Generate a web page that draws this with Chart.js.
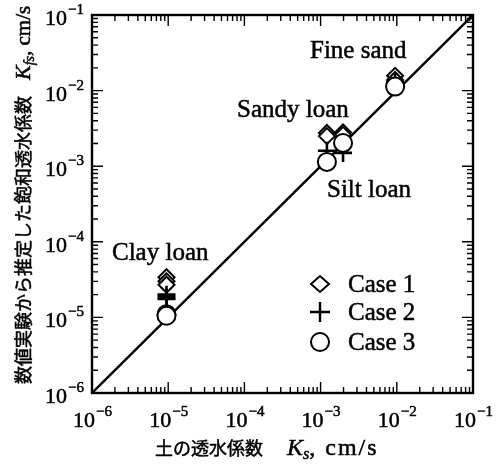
<html>
<head>
    <script src="https://cdn.jsdelivr.net/npm/chart.js"></script>
    <style>
        body { margin: 0; background: #fff; }
    </style>
</head>
<body>
    <canvas id="myChart" width="503" height="466"></canvas>
    <script>
        // 軸の目盛り（10の累乗）
        const tickExponents = [-6, -5, -4, -3, -2, -1];

        // 土の透水係数 Ks (cm/s) : Clay loan, Sandy loan, Silt loan, Fine sand
        const soilKs = [9.5e-6, 1.21e-3, 1.97e-3, 9.5e-3];

        // 数値実験から推定した Kfs (cm/s)、土ごと
        const case1Kfs = [[3.4e-5, 3.0e-5, 2.7e-5], [2.75e-3, 2.5e-3], [2.8e-3, 2.6e-3], [1.57e-2, 1.38e-2]];
        const case2Kfs = [[2.0e-5, 1.85e-5, 1.75e-5], [1.6e-3], [1.5e-3], [1.3e-2]];
        const case3Kfs = [[1.1e-5, 1.05e-5], [1.14e-3], [2.03e-3], [1.13e-2]];

        const legendLabels = ['Case 1', 'Case 2', 'Case 3'];
        const soilNames = ['Clay loan', 'Sandy loan', 'Silt loan', 'Fine sand'];

        function toPoints(kfs) {
            const pts = [];
            soilKs.forEach((x, i) => kfs[i].forEach(y => pts.push({ x: x, y: y })));
            return pts;
        }

        const serif = '"Liberation Serif", "DejaVu Serif", serif';
        const jp = '"Noto Sans CJK JP", sans-serif';

        // 文字を少し太めに（スキャン画像っぽく）
        function text(ctx, t, x, y) {
            ctx.fillText(t, x, y);
            ctx.strokeText(t, x, y);
        }

        // 軸・目盛り・文字を描く
        const decor = {
            id: 'decor',
            afterDraw(chart) {
                const ctx = chart.ctx;
                const a = chart.chartArea;
                const xs = chart.scales.x;
                const ys = chart.scales.y;
                ctx.save();
                ctx.strokeStyle = '#000';
                ctx.fillStyle = '#000';

                // 枠
                ctx.lineWidth = 2.4;
                ctx.strokeRect(a.left, a.top, a.right - a.left, a.bottom - a.top);

                // 内向きの目盛り
                ctx.lineWidth = 1.4;
                ctx.beginPath();
                tickExponents.forEach((e, idx) => {
                    for (let m = 1; m <= 9; m++) {
                        if (idx === tickExponents.length - 1 && m > 1) break;
                        const v = m * Math.pow(10, e);
                        const len = m === 1 ? 11 : 6;
                        const px = xs.getPixelForValue(v);
                        const py = ys.getPixelForValue(v);
                        ctx.moveTo(px, a.bottom); ctx.lineTo(px, a.bottom - len);
                        ctx.moveTo(px, a.top); ctx.lineTo(px, a.top + len);
                        ctx.moveTo(a.left, py); ctx.lineTo(a.left + len, py);
                        ctx.moveTo(a.right, py); ctx.lineTo(a.right - len, py);
                    }
                });
                ctx.stroke();

                ctx.lineWidth = 0.5;

                // 目盛りラベル 10^n
                const baseFont = '22px ' + serif;
                const supFont = '15px ' + serif;
                ctx.textBaseline = 'alphabetic';
                ctx.textAlign = 'left';
                tickExponents.forEach(e => {
                    const sup = '\u2212' + Math.abs(e);
                    ctx.font = baseFont;
                    const w1 = ctx.measureText('10').width;
                    ctx.font = supFont;
                    const w2 = ctx.measureText(sup).width;
                    // x 軸
                    let cx = xs.getPixelForValue(Math.pow(10, e)) - (w1 + w2) / 2;
                    ctx.font = baseFont;
                    text(ctx, '10', cx, a.bottom + 34);
                    ctx.font = supFont;
                    text(ctx, sup, cx + w1 + 1, a.bottom + 23);
                    // y 軸
                    const py = ys.getPixelForValue(Math.pow(10, e));
                    cx = a.left - 9 - (w1 + w2);
                    ctx.font = baseFont;
                    text(ctx, '10', cx, py + 10);
                    ctx.font = supFont;
                    text(ctx, sup, cx + w1 + 1, py - 1);
                });

                // 軸タイトル
                function drawParts(parts, x, y) {
                    let cx = x;
                    parts.forEach(p => {
                        ctx.font = p.font;
                        ctx.letterSpacing = (p.ls || 0) + 'px';
                        text(ctx, p.text, cx, y + (p.dy || 0));
                        cx += ctx.measureText(p.text).width + (p.gap || 0);
                    });
                    ctx.letterSpacing = '0px';
                }
                drawParts([
                    { text: '土の透水係数', font: '18px ' + jp, gap: 24 },
                    { text: 'K', font: 'italic 24px ' + serif },
                    { text: 's', font: 'italic 16px ' + serif, dy: 4 },
                    { text: ', cm/s', font: '24px ' + serif, ls: 2 }
                ], 155, a.bottom + 62);

                ctx.save();
                ctx.translate(30, 384);
                ctx.rotate(-Math.PI / 2);
                drawParts([
                    { text: '数値実験から推定した飽和透水係数', font: '18px ' + jp, gap: 16 },
                    { text: 'K', font: 'italic 22px ' + serif },
                    { text: 'fs', font: 'italic 14px ' + serif, dy: 4 },
                    { text: ', cm/s', font: '21px ' + serif }
                ], 0, 0);
                ctx.restore();

                // 土の名前
                ctx.font = '25px ' + serif;
                ctx.textBaseline = 'middle';
                const namePos = [[112, 253], [237, 110], [327, 190], [310, 51]];
                soilNames.forEach((n, i) => text(ctx, n, namePos[i][0], namePos[i][1]));

                // 凡例
                const lx = 320;
                const ly = [284, 312, 342];
                ctx.lineWidth = 2;
                ctx.fillStyle = '#fff';
                ctx.beginPath();
                ctx.moveTo(lx - 9, ly[0]); ctx.lineTo(lx, ly[0] - 8); ctx.lineTo(lx + 9, ly[0]); ctx.lineTo(lx, ly[0] + 8);
                ctx.closePath(); ctx.fill(); ctx.stroke();
                ctx.lineWidth = 2.4;
                ctx.beginPath();
                ctx.moveTo(lx - 10, ly[1]); ctx.lineTo(lx + 10, ly[1]);
                ctx.moveTo(lx, ly[1] - 10); ctx.lineTo(lx, ly[1] + 10);
                ctx.stroke();
                ctx.lineWidth = 2;
                ctx.beginPath();
                ctx.arc(lx, ly[2], 9, 0, Math.PI * 2);
                ctx.fill(); ctx.stroke();
                ctx.fillStyle = '#000';
                ctx.lineWidth = 0.5;
                legendLabels.forEach((t, i) => text(ctx, t, lx + 28, ly[i] + 1));

                ctx.restore();
            }
        };

        new Chart(document.getElementById('myChart'), {
            type: 'scatter',
            data: {
                datasets: [
                    {
                        label: 'Case 3', data: toPoints(case3Kfs), order: 0,
                        pointStyle: 'circle', pointRadius: 9, borderWidth: 2,
                        borderColor: '#000', backgroundColor: '#fff'
                    },
                    {
                        label: 'Case 2', data: toPoints(case2Kfs), order: 1,
                        pointStyle: 'cross', pointRadius: 9, borderWidth: 2.6,
                        borderColor: '#000', backgroundColor: '#fff'
                    },
                    {
                        label: 'Case 1', data: toPoints(case1Kfs), order: 2,
                        pointStyle: 'rectRot', pointRadius: 8, borderWidth: 2,
                        borderColor: '#000', backgroundColor: '#fff'
                    },
                    {
                        type: 'line', label: '1:1', order: 3,
                        data: [{ x: 1e-6, y: 1e-6 }, { x: 1e-1, y: 1e-1 }],
                        showLine: true, pointRadius: 0, borderWidth: 2.4,
                        borderColor: '#000'
                    }
                ]
            },
            options: {
                responsive: false,
                animation: false,
                devicePixelRatio: 1,
                layout: { padding: { top: 15, right: 30, left: 0, bottom: 0 } },
                plugins: { legend: { display: false }, tooltip: { enabled: false } },
                scales: {
                    x: {
                        type: 'logarithmic', min: 1e-6, max: 1e-1,
                        grid: { display: false }, border: { display: false },
                        ticks: { display: false },
                        afterFit: s => { s.height = 73; }
                    },
                    y: {
                        type: 'logarithmic', min: 1e-6, max: 1e-1,
                        grid: { display: false }, border: { display: false },
                        ticks: { display: false },
                        afterFit: s => { s.width = 92; }
                    }
                }
            },
            plugins: [decor]
        });
    </script>
</body>
</html>
